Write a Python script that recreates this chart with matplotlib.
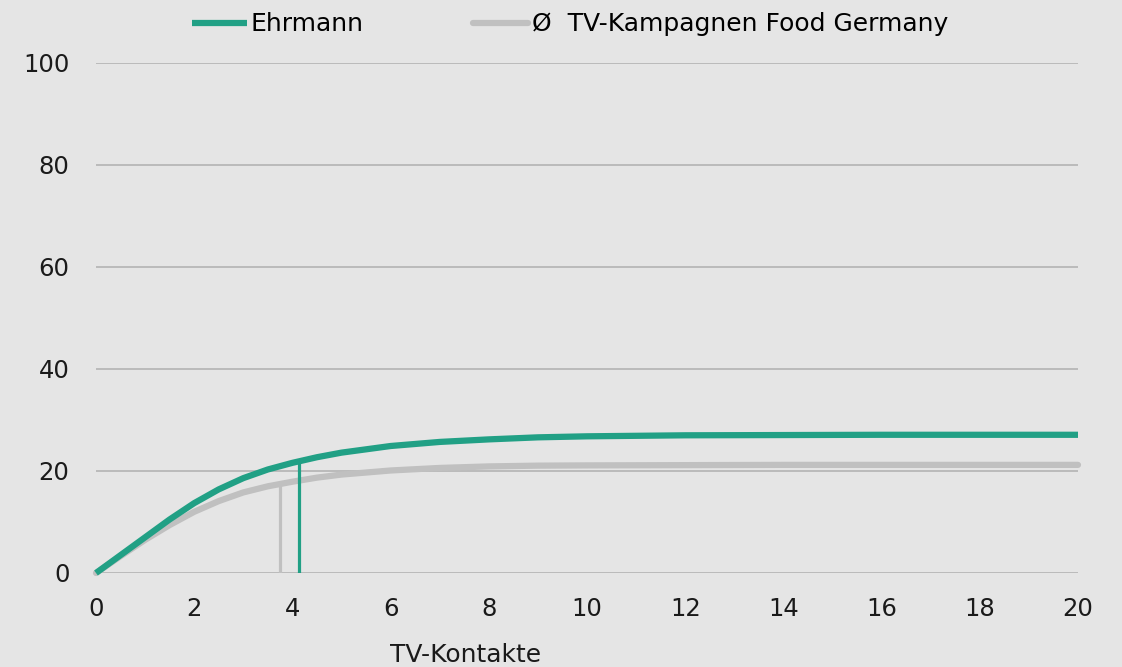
import matplotlib
matplotlib.use("Agg")
import matplotlib.pyplot as plt

# TV-Kontakte (x) vs. curve values
x_ehrmann = [0, 0.5, 1, 1.5, 2, 2.5, 3, 3.5, 4, 4.5, 5, 6, 7, 8, 9, 10, 12, 14, 16, 18, 20]
y_ehrmann = [0, 3.5, 7.0, 10.5, 13.7, 16.4, 18.6, 20.3, 21.6, 22.7, 23.6, 24.9, 25.7,
             26.2, 26.6, 26.8, 27.0, 27.05, 27.1, 27.1, 27.1]

x_food = [0, 0.5, 1, 1.5, 2, 2.5, 3, 3.5, 4, 4.5, 5, 6, 7, 8, 9, 10, 12, 14, 16, 18, 20]
y_food = [0, 3.3, 6.5, 9.4, 12.0, 14.1, 15.8, 17.0, 17.9, 18.7, 19.3, 20.1, 20.6,
          20.9, 21.05, 21.1, 21.15, 21.2, 21.2, 21.2, 21.2]

# marker lines
vline_x = [4.13, 3.75]
vline_top = [21.8, 17.3]

labels = ["Ehrmann", "Ø  TV-Kampagnen Food Germany"]
green = "#21a085"
grey = "#c0c0c0"
bg = "#e5e5e5"

plt.rcParams["font.family"] = ["DejaVu Sans"]

fig = plt.figure(figsize=(11.22, 6.67), dpi=100, facecolor=bg)
ax = fig.add_axes([96 / 1122, 1 - 573 / 667, (1078 - 96) / 1122, (573 - 63) / 667])
ax.set_facecolor(bg)

ax.set_xlim(0, 20)
ax.set_ylim(0, 100)
ax.set_xticks(range(0, 21, 2))
ax.set_yticks(range(0, 101, 20))
ax.grid(axis="y", color="#b3b3b3", linewidth=1.2)
ax.set_axisbelow(True)
for s in ax.spines.values():
    s.set_visible(False)
ax.tick_params(length=0, labelsize=17.5, colors="#1a1a1a")
ax.tick_params(axis="x", pad=17)
ax.tick_params(axis="y", pad=19)

ax.plot(x_ehrmann, y_ehrmann, color=green, linewidth=4.5, label=labels[0],
        solid_capstyle="butt", clip_on=False, zorder=3)
ax.plot(x_food, y_food, color=grey, linewidth=4.5, label=labels[1],
        solid_capstyle="round", clip_on=False, zorder=2)
ax.vlines(vline_x[0], 0, vline_top[0], color=green, linewidth=2.3, zorder=3)
ax.vlines(vline_x[1], 0, vline_top[1], color=grey, linewidth=2.3, zorder=2)

fig.legend(loc="upper center", bbox_to_anchor=(570 / 1122, 1.015), ncol=2, frameon=False,
           fontsize=18, handlelength=2.2, handletextpad=0.15, columnspacing=4.4)

fig.text(466 / 1122, 1 - 655 / 667, "TV-Kontakte", ha="center", va="center",
         fontsize=18, color="#1a1a1a")

fig.savefig("out.png", dpi=100, facecolor=bg)
